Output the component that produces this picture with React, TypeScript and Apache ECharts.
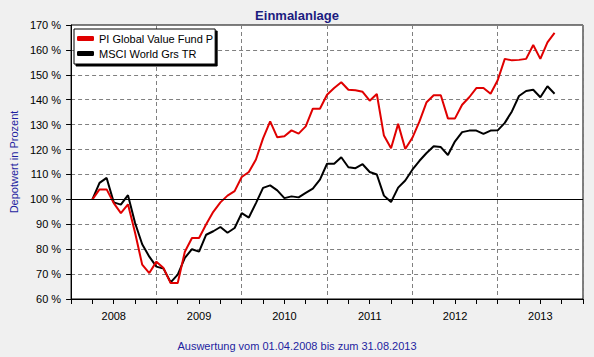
import React, { useEffect, useRef } from "react";
import * as echarts from "echarts";

// Month index 0 = Jan 2008; data runs monthly from Apr 2008 (index 3) to Sep 2013 (index 68)
const startMonthIndex = 3;
const yearLabels = ["2008", "2009", "2010", "2011", "2012", "2013"];
const seriesNames = ["PI Global Value Fund P", "MSCI World Grs TR"];

const fundValues = [
  100, 104, 104, 98.5, 94.5, 98, 86.6, 73.8, 70.4,
  75, 72.4, 66.4, 66.4, 79, 84.5, 84.5, 90, 95, 98.8, 101.5, 103.3,
  109, 111, 116, 124.5, 131.3, 124.9, 125.3, 127.7, 126.4, 129.3, 136.4, 136.4,
  142, 144.7, 147, 144, 143.8, 143.2, 139.6, 142.3, 125.6, 120.5, 130.3, 120.2,
  124.7, 131.3, 139, 141.8, 141.8, 132.5, 132.5, 138, 141, 144.7, 144.7, 142.4,
  147.8, 156.4, 155.8, 156, 156.4, 162, 156.4, 163, 166.8,
];

const msciValues = [
  100, 106.6, 108.6, 98.8, 97.9, 101.7, 90.5, 82, 77,
  73, 72.2, 66.7, 69.8, 76.5, 80, 79, 85.8, 87.2, 88.9, 86.6, 88.5,
  94.5, 92.7, 98.5, 104.6, 105.6, 103.6, 100.5, 101.2, 100.8, 102.6, 104.3, 107.9,
  114.3, 114.3, 116.9, 112.9, 112.5, 114.1, 111, 110, 101.5, 98.9, 104.7, 107.6,
  111.9, 115.5, 118.6, 121.3, 121, 117.8, 123.3, 127, 127.6, 127.6, 126.3, 127.6,
  127.7, 130.7, 135.3, 141.5, 143.5, 144, 141, 145.4, 142.4,
];

const FONT = "'Liberation Sans', Arial, sans-serif";

export default function App() {
  const ref = useRef<HTMLDivElement>(null);
  useEffect(() => {
    if (!ref.current) return;
    const chart = echarts.init(ref.current, undefined, { renderer: "svg" });
    const toPts = (vals: number[]) => vals.map((v, i) => [startMonthIndex + i, v]);
    chart.setOption({
      animation: false,
      backgroundColor: "#F0F0F0",
      textStyle: { fontFamily: FONT },
      title: {
        text: "Einmalanlage",
        left: "center",
        top: 4,
        textStyle: { fontFamily: FONT, fontSize: 13, fontWeight: "bold", color: "#1C1C80" },
      },
      graphic: [
        {
          type: "text",
          left: "center",
          top: 340,
          style: {
            text: "Auswertung vom 01.04.2008 bis zum 31.08.2013",
            font: `11px ${FONT}`,
            fill: "#1E1EA0",
          },
        },
      ],
      legend: {
        data: seriesNames,
        orient: "vertical",
        left: 74,
        top: 29,
        padding: [4, 2, 5, 3],
        itemGap: 4,
        itemWidth: 17,
        itemHeight: 5,
        icon: "roundRect",
        backgroundColor: "#FFFFFF",
        borderColor: "#000000",
        borderWidth: 1,
        shadowColor: "#000000",
        shadowOffsetX: 2,
        shadowOffsetY: 2,
        shadowBlur: 0,
        textStyle: { fontFamily: FONT, fontSize: 11, color: "#000000" },
      },
      grid: {
        left: 67,
        right: 11,
        top: 25,
        bottom: 58,
        show: true,
        backgroundColor: "#FFFFFF",
        borderColor: "#000000",
        borderWidth: 1,
      },
      xAxis: [
        {
          type: "value",
          min: 0,
          max: 72,
          interval: 12,
          position: "bottom",
          axisLine: { show: true, lineStyle: { color: "#000000", width: 1 } },
          axisTick: { show: false },
          axisLabel: { show: false },
          splitLine: { show: true, lineStyle: { color: "#808080", type: [4, 3], width: 1 } },
        },
        {
          type: "value",
          min: 0,
          max: 72,
          interval: 3,
          position: "bottom",
          axisLine: { show: false },
          axisTick: { show: true, length: 5, inside: false, lineStyle: { color: "#000000" } },
          axisLabel: {
            margin: 11,
            fontFamily: FONT,
            fontSize: 11,
            color: "#000000",
            formatter: (v: number) => (v % 12 === 6 ? yearLabels[(v - 6) / 12] ?? "" : ""),
          },
          splitLine: { show: false },
        },
      ],
      yAxis: {
        type: "value",
        min: 60,
        max: 170,
        interval: 10,
        name: "Depotwert in Prozent",
        nameLocation: "middle",
        nameGap: 50,
        nameTextStyle: { fontFamily: FONT, fontSize: 11, color: "#1E1EA0" },
        axisLine: { show: true, lineStyle: { color: "#000000", width: 1 } },
        axisTick: { show: true, length: 5, lineStyle: { color: "#000000" } },
        axisLabel: { margin: 10, fontFamily: FONT, fontSize: 11, color: "#000000", formatter: "{value} %" },
        splitLine: { show: true, lineStyle: { color: "#808080", type: [4, 3], width: 1 } },
      },
      series: [
        {
          name: seriesNames[1],
          type: "line",
          xAxisIndex: 0,
          data: toPts(msciValues),
          symbol: "none",
          lineStyle: { color: "#000000", width: 2 },
          itemStyle: { color: "#000000" },
          markLine: {
            silent: true,
            symbol: ["none", "none"],
            label: { show: false },
            lineStyle: { color: "#000000", type: "solid", width: 1 },
            data: [{ yAxis: 100 }],
          },
        },
        {
          name: seriesNames[0],
          type: "line",
          xAxisIndex: 0,
          data: toPts(fundValues),
          symbol: "none",
          lineStyle: { color: "#E00000", width: 2 },
          itemStyle: { color: "#E00000" },
        },
      ],
    });
    return () => chart.dispose();
  }, []);
  return (
    <div
      ref={ref}
      style={{ position: "fixed", left: 0, top: 0, width: 594, height: 357 }}
    />
  );
}
